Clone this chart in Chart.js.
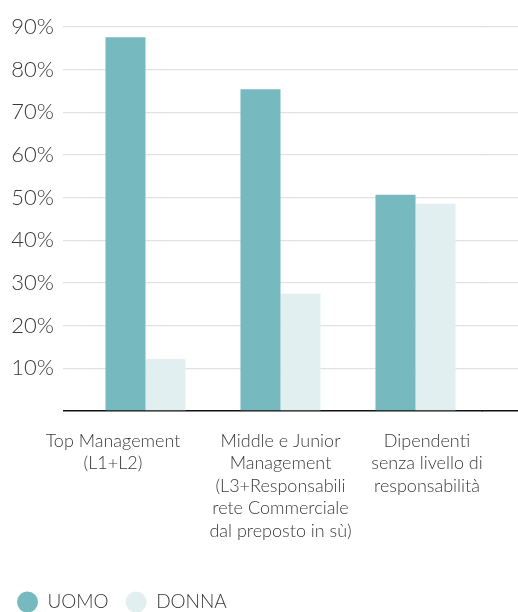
<!DOCTYPE html>
<html lang="it">
<head>
<meta charset="utf-8">
<title>UOMO / DONNA per livello</title>
<script src="https://cdn.jsdelivr.net/npm/chart.js@4.4.1/dist/chart.umd.min.js"></script>
<style>
  html, body { margin: 0; padding: 0; background: #ffffff; }
  #wrap { width: 518px; height: 612px; }
</style>
</head>
<body>
<div id="wrap"><canvas id="chart" width="518" height="612"></canvas></div>
<script>
// Categories (one array of lines per category label)
const categories = [
  ["Top Management", "(L1+L2)"],
  ["Middle e Junior", "Management", "(L3+Responsabili", "rete Commerciale", "dal preposto in sù)"],
  ["Dipendenti", "senza livello di", "responsabilità"]
];

// Share of each group (%)
const uomo = [87.6, 75.4, 50.7];
const donna = [12.2, 27.5, 48.6];

// Series names
const seriesNames = ["UOMO", "DONNA"];

// Value axis ticks
const yTickValues = [0, 10, 20, 30, 40, 50, 60, 70, 80, 90];

const FONT = "Lato, 'Open Sans', sans-serif";
const TEXT = "#3a3a3a";
const GRID = "#e2e2e2";
const BASE = "#111111";

const colorFor = (v) => (v === 0 ? BASE : GRID);
const widthFor = (v) => (v === 0 ? 1.5 : 1.2);
const lineColor = (c) => colorFor(c.tick ? c.tick.value : null);
const lineWidth = (c) => widthFor(c.tick ? c.tick.value : null);

// Snap a coordinate the same way the grid lines are snapped
const snap = (chart, px, w) => {
  const r = chart.currentDevicePixelRatio || 1;
  return Math.round((px - w / 2) * r) / r + w / 2;
};

// Carries the horizontal grid lines on to the right edge of the canvas
const gridToEdge = {
  id: "gridToEdge",
  beforeDatasetsDraw(chart) {
    const { ctx, chartArea, scales: { y } } = chart;
    ctx.save();
    y.ticks.forEach((t) => {
      const w = widthFor(t.value);
      const py = snap(chart, y.getPixelForValue(t.value), w);
      ctx.beginPath();
      ctx.strokeStyle = colorFor(t.value);
      ctx.lineWidth = w;
      ctx.moveTo(chartArea.right - 1, py);
      ctx.lineTo(chart.width, py);
      ctx.stroke();
    });
    ctx.restore();
  }
};

// Multi-line category captions under the axis
const categoryLabels = {
  id: "categoryLabels",
  afterDraw(chart, args, opts) {
    const { ctx, scales: { x }, chartArea } = chart;
    ctx.save();
    ctx.font = opts.font;
    ctx.fillStyle = opts.color;
    ctx.textAlign = "center";
    ctx.textBaseline = "middle";
    chart.data.labels.forEach((lines, i) => {
      const cx = x.getPixelForValue(i) + (opts.shift[i] || 0);
      lines.forEach((line, k) => {
        ctx.fillText(line, cx, chartArea.bottom + opts.top + k * opts.lineHeight);
      });
    });
    ctx.restore();
  }
};

new Chart(document.getElementById("chart"), {
  type: "bar",
  data: {
    labels: categories,
    datasets: [
      {
        label: seriesNames[0],
        data: uomo,
        backgroundColor: "#76babf",
        borderWidth: 0,
        barPercentage: 1,
        categoryPercentage: 0.593
      },
      {
        label: seriesNames[1],
        data: donna,
        backgroundColor: "#e1eff0",
        borderWidth: 0,
        barPercentage: 1,
        categoryPercentage: 0.593
      }
    ]
  },
  options: {
    responsive: false,
    animation: false,
    layout: { padding: { top: 27, left: 0, right: 35, bottom: -9.5 } },
    scales: {
      x: {
        grid: { display: false },
        border: { display: false },
        ticks: { display: false },
        afterFit(scale) { scale.height = 164.5; }
      },
      y: {
        position: "left",
        min: 0,
        max: 90,
        afterBuildTicks(scale) { scale.ticks = yTickValues.map(v => ({ value: v })); },
        afterFit(scale) { scale.width = 78; },
        border: { display: false },
        grid: {
          color: lineColor,
          lineWidth: lineWidth,
          tickColor: lineColor,
          tickWidth: lineWidth,
          tickLength: 15,
          drawTicks: true
        },
        ticks: {
          padding: 9,
          color: TEXT,
          font: { family: FONT, size: 22, weight: "300" },
          callback: (v) => (v === 0 ? "" : v + "%")
        }
      }
    },
    plugins: {
      tooltip: { enabled: false },
      legend: {
        position: "bottom",
        align: "start",
        labels: {
          usePointStyle: true,
          pointStyle: "circle",
          boxHeight: 15,
          pointStyleWidth: 21,
          padding: 17,
          color: TEXT,
          font: { family: FONT, size: 19, weight: "300" }
        }
      },
      categoryLabels: {
        font: "300 18px " + FONT,
        color: TEXT,
        top: 30,
        lineHeight: 22.5,
        shift: [-32.5, 0, 11.5]
      }
    }
  },
  plugins: [gridToEdge, categoryLabels]
});
</script>
</body>
</html>
